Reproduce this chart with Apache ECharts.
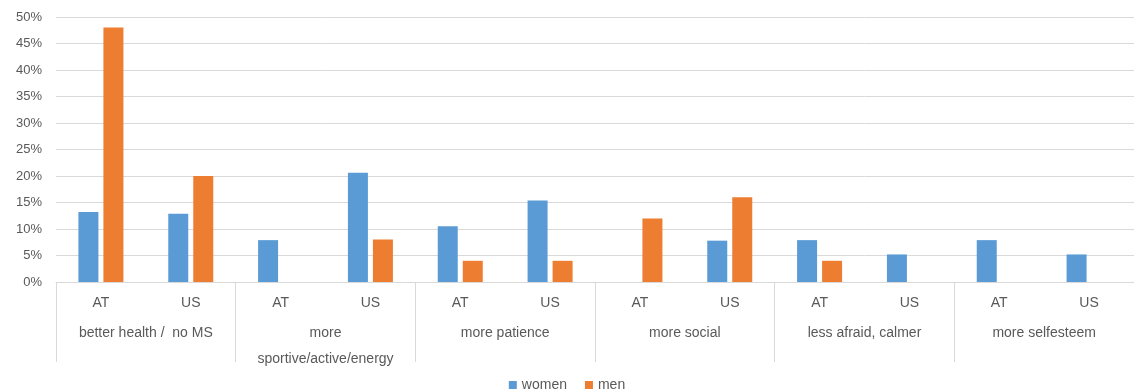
<!DOCTYPE html>
<html>
<head>
<meta charset="utf-8">
<script src="https://cdn.jsdelivr.net/npm/echarts@6/dist/echarts.min.js"></script>
<style>
  html, body { margin: 0; padding: 0; background: #ffffff; }
  #chart { width: 1134px; height: 392px; }
</style>
</head>
<body>
<div id="chart"></div>
<script>
// Reported changes by group and country (percent of respondents)
const groups = [
  'better health /  no MS',
  'more\nsportive/active/energy',
  'more patience',
  'more social',
  'less afraid, calmer',
  'more selfesteem'
];
const countries = ['AT', 'US'];
const women = [13.2, 12.9, 7.9, 20.6, 10.5, 15.4, 0, 7.8, 7.9, 5.2, 7.9, 5.2];
const men = [48, 20, 0, 8, 4, 4, 12, 16, 4, 0, 0, 0];
const yTicks = { min: 0, max: 50, interval: 5 };

const categories = [];
groups.forEach(() => countries.forEach(c => categories.push(c)));

const textColor = '#595959';
const lineColor = '#d9d9d9';
const fontFamily = '"Liberation Sans", Arial, sans-serif';

const chart = echarts.init(document.getElementById('chart'), null, { renderer: 'canvas' });
chart.setOption({
  animation: false,
  textStyle: { fontFamily: fontFamily },
  grid: { left: 56, top: 17, width: 1082, height: 265, containLabel: false },
  legend: {
    data: ['women', 'men'],
    left: 'center',
    top: 373,
    itemWidth: 8,
    itemHeight: 8,
    itemGap: 18,
    icon: 'rect',
    textStyle: { color: textColor, fontSize: 14, fontFamily: fontFamily }
  },
  xAxis: [
    {
      type: 'category',
      data: categories,
      position: 'bottom',
      axisLine: { show: true, lineStyle: { color: lineColor, width: 1 } },
      axisTick: { show: false },
      axisLabel: { color: textColor, fontSize: 14, margin: 14, interval: 0 }
    },
    {
      type: 'category',
      data: groups,
      position: 'bottom',
      axisLine: { show: false },
      axisTick: { show: true, length: 80, lineStyle: { color: lineColor, width: 1 } },
      axisLabel: { color: textColor, fontSize: 14, margin: 38, interval: 0, lineHeight: 26 },
      splitLine: { show: false }
    }
  ],
  yAxis: {
    type: 'value',
    min: yTicks.min,
    max: yTicks.max,
    interval: yTicks.interval,
    axisLine: { show: false },
    axisTick: { show: false },
    axisLabel: { color: textColor, fontSize: 13, margin: 14, formatter: '{value}%' },
    splitLine: { lineStyle: { color: lineColor, width: 1 } }
  },
  series: [
    {
      name: 'women',
      type: 'bar',
      xAxisIndex: 0,
      data: women,
      barWidth: 20,
      barGap: '25%',
      itemStyle: { color: '#5b9bd5' }
    },
    {
      name: 'men',
      type: 'bar',
      xAxisIndex: 0,
      data: men,
      barWidth: 20,
      barGap: '25%',
      itemStyle: { color: '#ed7d31' }
    }
  ]
});
</script>
</body>
</html>
